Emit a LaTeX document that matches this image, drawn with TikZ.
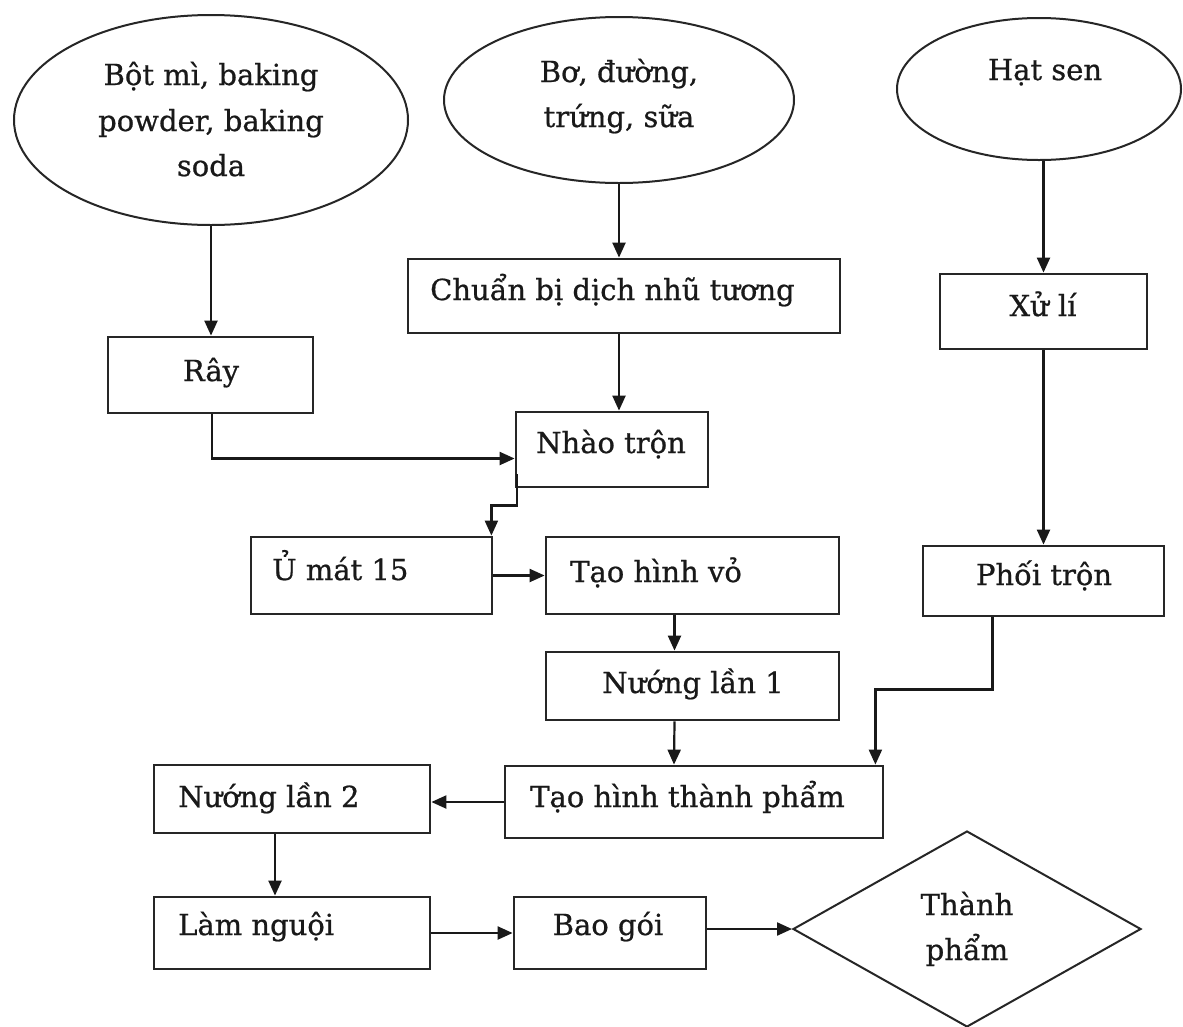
\documentclass[tikz,border=0pt]{standalone}
\usepackage{fontspec}
\setmainfont{DejaVu Serif}[FakeBold=0.7]
\usetikzlibrary{shapes.geometric,arrows.meta,calc}
\begin{document}
\begin{tikzpicture}[x=1pt,y=-1pt,
  box/.style={draw=black!85, line width=2.8pt, inner sep=0pt, rectangle},
  oval/.style={draw=black!85, line width=2pt, ellipse, inner sep=0pt},
  lbl/.style={font=\fontsize{29}{44}\selectfont, inner sep=0pt, text=black!90},
  arr/.style={draw=black!90, line width=2.2pt, -{Triangle[length=15pt,width=13pt]}}
]
\useasboundingbox[fill=white] (0,0) rectangle (1183,1026);

% ellipses
\node[oval, minimum width=394pt, minimum height=210pt] (e1) at (211,120) {};
\node[oval, minimum width=350pt, minimum height=166pt] (e2) at (619,100) {};
\node[oval, minimum width=284pt, minimum height=142pt] (e3) at (1039,89) {};

% boxes
\node[box, minimum width=432pt, minimum height=74pt] (chuan) at (624,296) {};
\node[box, minimum width=207pt, minimum height=75pt] (xuli) at (1043.5,311.5) {};
\node[box, minimum width=205pt, minimum height=76pt] (ray) at (210.5,375) {};
\node[box, minimum width=192pt, minimum height=75pt] (nhao) at (612,449.5) {};
\node[box, minimum width=241pt, minimum height=77pt] (umat) at (371.5,575.5) {};
\node[box, minimum width=293pt, minimum height=77pt] (taovo) at (692.5,575.5) {};
\node[box, minimum width=293pt, minimum height=68pt] (nuong1) at (692.5,686) {};
\node[box, minimum width=378pt, minimum height=72pt] (taotp) at (694,802) {};
\node[box, minimum width=241pt, minimum height=70pt] (phoi) at (1043.5,581) {};
\node[box, minimum width=276pt, minimum height=68pt] (nuong2) at (292,799) {};
\node[box, minimum width=276pt, minimum height=72pt] (lamnguoi) at (292,933) {};
\node[box, minimum width=192pt, minimum height=72pt] (baogoi) at (610,933) {};
\node[draw=black!85, line width=2pt, diamond, minimum width=348pt, minimum height=196pt, inner sep=0pt] (dia) at (967,929) {};

% texts
\node[lbl, anchor=base] (t1a) at (211,85) {Bột mì, baking};
\node[lbl, anchor=base] (t1b) at (211,131) {powder, baking};
\node[lbl, anchor=base] (t1c) at (211,176) {soda};
\node[lbl, anchor=base] (t2a) at (619,82) {Bơ, đường,};
\node[lbl, anchor=base] (t2b) at (619,127) {trứng, sữa};
\node[lbl, anchor=base] (t3) at (1045,80) {Hạt sen};
\node[lbl, anchor=base west] (tchuan) at (430,300) {Chuẩn bị dịch nhũ tương};
\node[lbl, anchor=base] (txuli) at (1043,316) {Xử lí};
\node[lbl, anchor=base] (tray) at (211,381) {Rây};
\node[lbl, anchor=base] (tnhao) at (611,453) {Nhào trộn};
\node[lbl, anchor=base west] (tumat) at (272,580) {Ủ mát 15};
\node[lbl, anchor=base west] (ttaovo) at (570,582) {Tạo hình vỏ};
\node[lbl, anchor=base] (tnuong1) at (693,693) {Nướng lần 1};
\node[lbl, anchor=base west] (ttaotp) at (530,807) {Tạo hình thành phẩm};
\node[lbl, anchor=base] (tphoi) at (1044,585) {Phối trộn};
\node[lbl, anchor=base west] (tnuong2) at (178,807) {Nướng lần 2};
\node[lbl, anchor=base west] (tlam) at (178,935) {Làm nguội};
\node[lbl, anchor=base] (tbao) at (608,935) {Bao gói};
\node[lbl, anchor=base] (tdia1) at (967,915) {Thành};
\node[lbl, anchor=base] (tdia2) at (967,960) {phẩm};

% connectors
\draw[arr] (e1.south) -- (e1.south |- ray.north);
\draw[arr] (e2.south) -- (e2.south |- chuan.north);
\draw[arr] (chuan.south -| e2.south) -- (nhao.north -| e2.south);
\draw[arr] ($(ray.south)+(1.5,0)$) |- ($(nhao.west)+(0,9)$);
\draw[arr] ($(nhao.south west)+(2,-14)$) -- ++(0,31) -| ($(umat.north east)+(-2,0)$);
\draw[arr] (umat.east) -- (taovo.west);
\draw[arr] ($(taovo.south)+(-18,0)$) -- ($(nuong1.north)+(-18,0)$);
\draw[arr] ($(nuong1.south)+(-18,0)$) -- ($(taotp.north)+(-20,0)$);
\draw[arr] (xuli.north |- e3.south) -- (xuli.north);
\draw[arr] (xuli.south) -- (phoi.north);
\draw[arr] ($(phoi.south)+(-51,0)$) -- ++(0,72) -| ($(taotp.north east)+(-9,0)$);
\draw[arr] (taotp.west) -- (taotp.west -| nuong2.east);
\draw[arr] ($(nuong2.south)+(-17,0)$) -- ($(lamnguoi.north)+(-17,0)$);
\draw[arr] (lamnguoi.east) -- (baogoi.west);
\draw[arr] (baogoi.east |- dia.west) -- (dia.west);
\end{tikzpicture}
\end{document}
